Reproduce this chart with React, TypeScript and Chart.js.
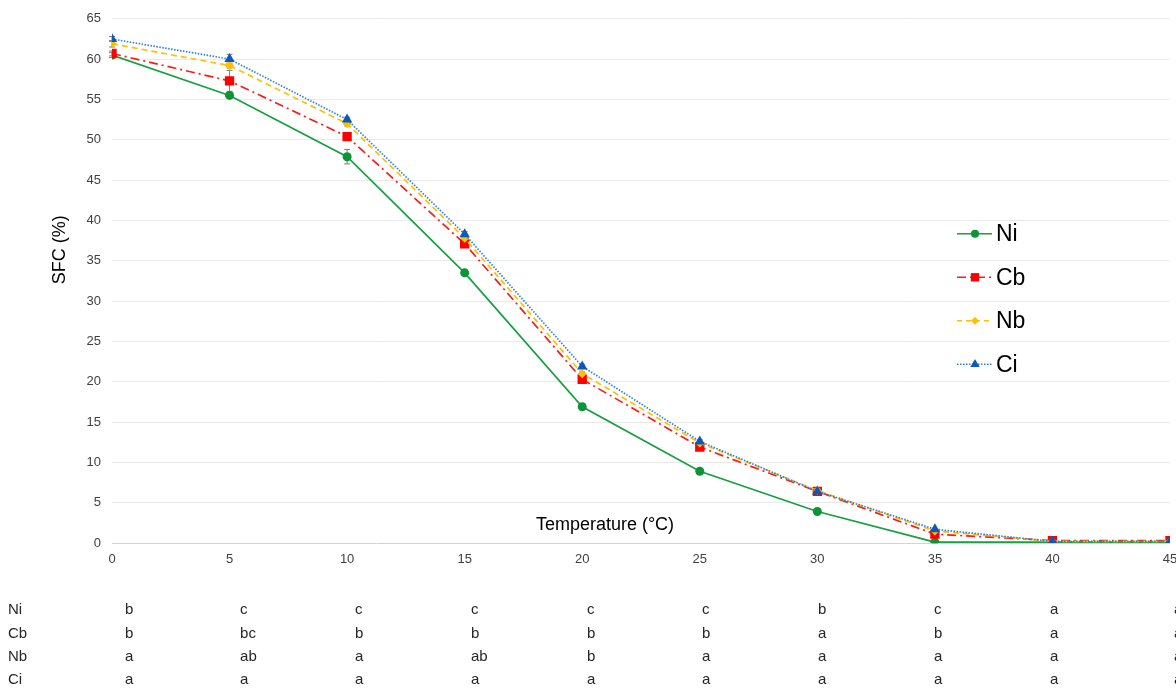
import React, { useEffect, useRef } from "react";
import { Chart, registerables } from "chart.js";

Chart.register(...registerables);

// ---------- data ----------
const temperatures = [0, 5, 10, 15, 20, 25, 30, 35, 40, 45];
const seriesNames = ["Ni", "Cb", "Nb", "Ci"];

const niSFC = [60.5, 55.5, 47.9, 33.5, 16.9, 8.9, 3.9, 0.1, 0.1, 0.1];
const cbSFC = [60.7, 57.3, 50.4, 37.1, 20.3, 11.9, 6.4, 1.1, 0.3, 0.3];
const nbSFC = [61.9, 59.2, 52.0, 37.8, 21.0, 12.4, 6.5, 1.5, 0.2, 0.2];
const ciSFC = [62.5, 60.0, 52.5, 38.3, 21.9, 12.6, 6.4, 1.7, 0.2, 0.2];

const niErr = [0.3, 0.3, 0.9, 0.3, 0.2, 0.2, 0.2, 0.1, 0.0, 0.0];
const cbErr = [0.3, 1.3, 0.4, 0.3, 0.3, 0.2, 0.2, 0.1, 0.0, 0.0];
const nbErr = [0.4, 0.3, 0.3, 0.3, 0.2, 0.2, 0.2, 0.1, 0.0, 0.0];
const ciErr = [0.3, 0.6, 0.3, 0.3, 0.2, 0.2, 0.2, 0.1, 0.0, 0.0];

const niLetters = ["b", "c", "c", "c", "c", "c", "b", "c", "a", "a"];
const cbLetters = ["b", "bc", "b", "b", "b", "b", "a", "b", "a", "a"];
const nbLetters = ["a", "ab", "a", "ab", "b", "a", "a", "a", "a", "a"];
const ciLetters = ["a", "a", "a", "a", "a", "a", "a", "a", "a", "a"];

const yMin = 0;
const yMax = 65;
const yStep = 5;
const xStep = 5;

const xTitle = "Temperature (°C)";
const yTitle = "SFC (%)";

// ---------- styles ----------
const FONT = "'Liberation Sans', Arial, sans-serif";
const TEXT = "#404040";

type Style = {
  line: string;
  marker: string;
  dash: number[];
  legendDash: number[];
  point: "circle" | "rect" | "rectRot" | "triangle";
  radius: number;
};

const styles: Style[] = [
  { line: "#16a040", marker: "#0e9336", dash: [], legendDash: [], point: "circle", radius: 4.5 },
  { line: "#ff1a1a", marker: "#ff0000", dash: [9, 4, 2, 4], legendDash: [9, 4, 2, 4], point: "rect", radius: 6.6 },
  { line: "#ffc000", marker: "#ffc000", dash: [6, 4], legendDash: [5, 4], point: "rectRot", radius: 4.5 },
  { line: "#2f80e0", marker: "#0b59b8", dash: [1.5, 1.5], legendDash: [1.5, 1.5], point: "triangle", radius: 6 },
];

const seriesValues = [niSFC, cbSFC, nbSFC, ciSFC];
const seriesErrors = [niErr, cbErr, nbErr, ciErr];
const seriesLetters = [niLetters, cbLetters, nbLetters, ciLetters];

// table column left offsets relative to the x tick position
const letterOffsets = [13, 10.5, 8, 6.3, 4.8, 2.2, 0.7, -1, -2.4, 4];

function drawMarker(ctx: CanvasRenderingContext2D, kind: string, x: number, y: number, r: number, color: string) {
  ctx.save();
  ctx.fillStyle = color;
  ctx.setLineDash([]);
  ctx.beginPath();
  if (kind === "circle") {
    ctx.arc(x, y, r, 0, Math.PI * 2);
  } else if (kind === "rect") {
    const s = r * Math.SQRT1_2;
    ctx.rect(x - s, y - s, 2 * s, 2 * s);
  } else if (kind === "rectRot") {
    ctx.moveTo(x, y - r);
    ctx.lineTo(x + r, y);
    ctx.lineTo(x, y + r);
    ctx.lineTo(x - r, y);
    ctx.closePath();
  } else {
    let a = 0;
    ctx.moveTo(x + Math.sin(a) * r, y - Math.cos(a) * r);
    a += (2 * Math.PI) / 3;
    ctx.lineTo(x + Math.sin(a) * r, y - Math.cos(a) * r);
    a += (2 * Math.PI) / 3;
    ctx.lineTo(x + Math.sin(a) * r, y - Math.cos(a) * r);
    ctx.closePath();
  }
  ctx.fill();
  ctx.restore();
}

const decorPlugin = {
  id: "decor",
  beforeDatasetsDraw(chart: any) {
    const ctx: CanvasRenderingContext2D = chart.ctx;
    const xs = chart.scales.x;
    const ys = chart.scales.y;
    ctx.save();
    ctx.strokeStyle = "#7f7f7f";
    ctx.lineWidth = 1;
    seriesValues.forEach((vals, si) => {
      vals.forEach((v, i) => {
        const e = seriesErrors[si][i];
        if (!e) return;
        const px = xs.getPixelForValue(temperatures[i]);
        const top = ys.getPixelForValue(v + e);
        const bot = ys.getPixelForValue(Math.max(0, v - e));
        ctx.beginPath();
        ctx.moveTo(px, top);
        ctx.lineTo(px, bot);
        ctx.moveTo(px - 3, top);
        ctx.lineTo(px + 3, top);
        ctx.moveTo(px - 3, bot);
        ctx.lineTo(px + 3, bot);
        ctx.stroke();
      });
    });
    ctx.restore();
  },
  afterDraw(chart: any) {
    const ctx: CanvasRenderingContext2D = chart.ctx;
    const area = chart.chartArea;
    const xs = chart.scales.x;
    ctx.save();

    // axis titles
    ctx.fillStyle = "#000000";
    ctx.font = `18px ${FONT}`;
    ctx.textAlign = "center";
    ctx.textBaseline = "middle";
    ctx.fillText(xTitle, area.left + 493, area.bottom - 18);

    ctx.save();
    ctx.translate(area.left - 52, area.top + 231);
    ctx.rotate(-Math.PI / 2);
    ctx.fillText(yTitle, 0, 0);
    ctx.restore();

    // legend
    const legX = area.right - 213;
    const legY = area.top + 215;
    const legGap = 43.5;
    seriesNames.forEach((name, i) => {
      const st = styles[i];
      const y = legY + i * legGap;
      ctx.save();
      ctx.strokeStyle = st.line;
      ctx.lineWidth = 1.5;
      ctx.setLineDash(st.legendDash);
      ctx.beginPath();
      ctx.moveTo(legX, y);
      ctx.lineTo(legX + 35, y);
      ctx.stroke();
      ctx.restore();
      drawMarker(ctx, st.point, legX + 18, y, st.radius * 0.9, st.marker);
      ctx.fillStyle = "#000000";
      ctx.font = `23px ${FONT}`;
      ctx.textAlign = "left";
      ctx.textBaseline = "middle";
      ctx.fillText(name, legX + 39, y + 1);
    });

    // significance table
    ctx.fillStyle = "#262626";
    ctx.font = `15px ${FONT}`;
    ctx.textBaseline = "middle";
    const rowTop = area.bottom + 67;
    const rowGap = 23.4;
    seriesNames.forEach((name, r) => {
      const y = rowTop + r * rowGap;
      ctx.textAlign = "left";
      ctx.fillText(name, 8, y);
      seriesLetters[r].forEach((lt, i) => {
        const px = xs.getPixelForValue(temperatures[i]) + letterOffsets[i];
        ctx.fillText(lt, px, y);
      });
    });

    ctx.restore();
  },
};

export default function App() {
  const ref = useRef<HTMLCanvasElement | null>(null);

  useEffect(() => {
    if (!ref.current) return;
    const datasets = seriesNames.map((name, si) => {
      const st = styles[si];
      return {
        label: name,
        data: temperatures.map((t, i) => ({ x: t, y: seriesValues[si][i] })),
        borderColor: st.line,
        backgroundColor: st.marker,
        borderWidth: 1.7,
        borderDash: st.dash,
        pointStyle: st.point,
        pointRadius: st.radius,
        pointBackgroundColor: st.marker,
        pointBorderColor: st.marker,
        pointBorderWidth: 0,
        tension: 0,
        fill: false,
        order: 4 - si,
      };
    });

    const chart = new Chart(ref.current, {
      type: "line",
      data: { datasets } as any,
      plugins: [decorPlugin],
      options: {
        animation: false,
        responsive: false,
        layout: { padding: { top: 17, right: 20, left: 0, bottom: 0 } },
        plugins: {
          legend: { display: false },
          tooltip: { enabled: false },
        },
        scales: {
          x: {
            type: "linear",
            min: temperatures[0],
            max: temperatures[temperatures.length - 1],
            ticks: {
              stepSize: xStep,
              color: TEXT,
              font: { family: FONT, size: 13 },
              padding: 9,
              maxRotation: 0,
            },
            grid: { display: false, drawTicks: false },
            border: { display: false },
            afterFit: (s: any) => {
              s.height = 146;
            },
          },
          y: {
            min: yMin,
            max: yMax,
            ticks: {
              stepSize: yStep,
              color: TEXT,
              font: { family: FONT, size: 13 },
              padding: 11,
            },
            grid: {
              drawTicks: false,
              color: (c: any) => (c.tick && c.tick.value === 0 ? "#d4d4d4" : "#e9e9e9"),
              lineWidth: 1,
            },
            border: { display: false },
            afterFit: (s: any) => {
              s.width = 112;
            },
          },
        },
      } as any,
    });
    return () => chart.destroy();
  }, []);

  return (
    <div
      style={{
        position: "fixed",
        left: 0,
        top: 0,
        width: 1176,
        height: 689,
        overflow: "hidden",
        background: "#ffffff",
      }}
    >
      <canvas ref={ref} width={1190} height={689} style={{ display: "block" }} />
    </div>
  );
}
